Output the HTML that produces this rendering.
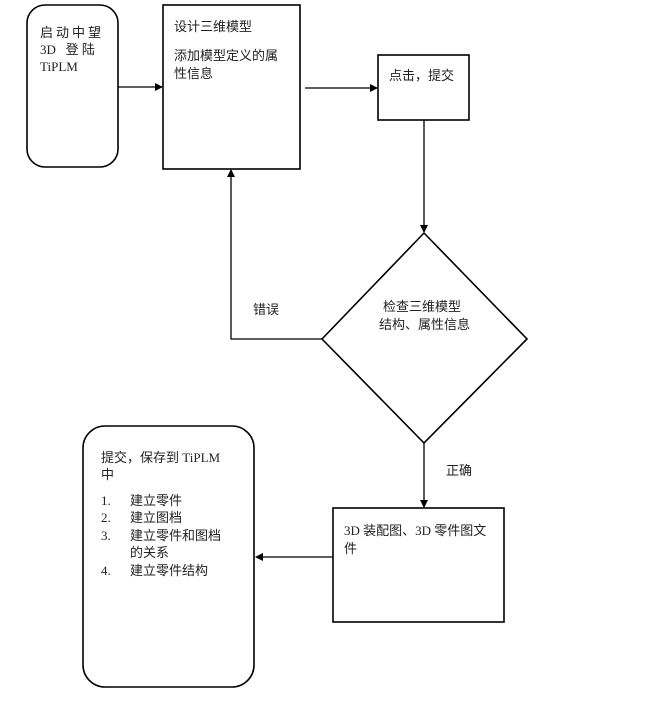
<!DOCTYPE html>
<html><head><meta charset="utf-8"><style>
html,body{margin:0;padding:0;background:#fff;}
svg{display:block;}
text{font-family:"Liberation Serif","Noto Sans CJK SC",sans-serif;font-size:13px;fill:#222;}
</style></head><body>
<svg width="660" height="701" viewBox="0 0 660 701" xmlns="http://www.w3.org/2000/svg">
<defs><marker id="a" markerWidth="8" markerHeight="8" refX="7" refY="4" orient="auto" markerUnits="userSpaceOnUse"><path d="M0,0 L8,4 L0,8 z" fill="#000"/></marker></defs>
<g fill="none" stroke="#000" stroke-width="1.6">
<rect x="27" y="5" width="91" height="162" rx="18"/>
<rect x="163" y="5" width="137" height="164"/>
<rect x="378" y="55" width="91" height="65"/>
<polygon points="424,233 527,339 424,443 322,339"/>
<rect x="333" y="508" width="171" height="114"/>
<rect x="83" y="426" width="171" height="261" rx="22"/>
</g>
<g stroke="#000" stroke-width="1.3" fill="none">
<line x1="118" y1="87" x2="162" y2="87" marker-end="url(#a)"/>
<line x1="305" y1="88" x2="377" y2="88" marker-end="url(#a)"/>
<line x1="424" y1="120" x2="424" y2="232" marker-end="url(#a)"/>
<polyline points="322,339 231,339 231,170" marker-end="url(#a)"/>
<line x1="424" y1="443" x2="424" y2="507" marker-end="url(#a)"/>
<line x1="333" y1="557" x2="256" y2="557" marker-end="url(#a)"/>
</g>
<text x="40" y="37" letter-spacing="3">启动中望</text>
<text x="40" y="54">3D&#160;&#160;&#160;登&#160;陆</text>
<text x="40" y="71">TiPLM</text>
<text x="174" y="31">设计三维模型</text>
<text x="174" y="60">添加模型定义的属</text>
<text x="174" y="78">性信息</text>
<text x="389" y="80">点击，提交</text>
<text x="383" y="311">检查三维模型</text>
<text x="379" y="329">结构、属性信息</text>
<text x="253" y="314">错误</text>
<text x="446" y="475">正确</text>
<text x="344" y="535">3D 装配图、3D 零件图文</text>
<text x="344" y="553">件</text>
<text x="101" y="462">提交，保存到 TiPLM</text>
<text x="101" y="479">中</text>
<text x="101" y="505">1.</text><text x="130" y="505">建立零件</text>
<text x="101" y="522">2.</text><text x="130" y="522">建立图档</text>
<text x="101" y="540">3.</text><text x="130" y="540">建立零件和图档</text>
<text x="130" y="557">的关系</text>
<text x="101" y="575">4.</text><text x="130" y="575">建立零件结构</text>
</svg>
</body></html>
